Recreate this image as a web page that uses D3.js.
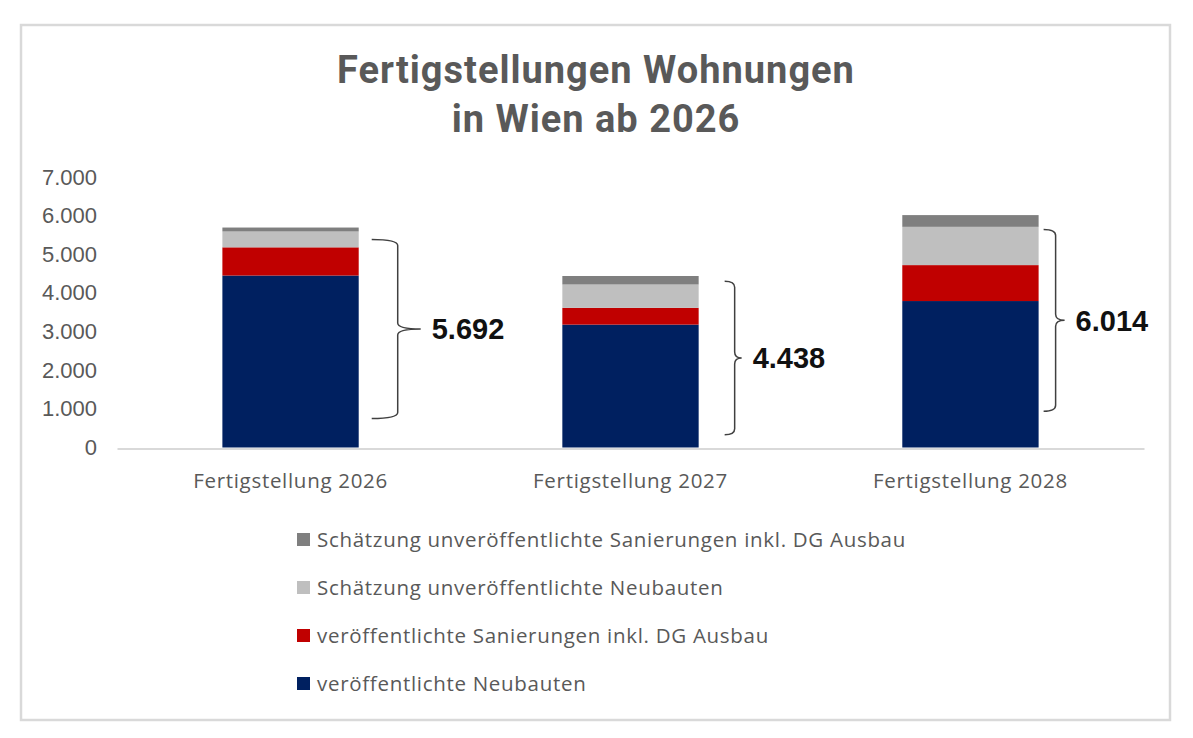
<!DOCTYPE html>
<html>
<head>
<meta charset="utf-8">
<script src="https://cdn.jsdelivr.net/npm/d3@7"></script>
<style>
  body { margin: 0; background: #ffffff; }
  svg { display: block; }
</style>
</head>
<body>
<div id="chart"></div>
<script>
// data
var categories = ["Fertigstellung 2026", "Fertigstellung 2027", "Fertigstellung 2028"];
var neubauten = [4450, 3180, 3790];
var sanierungen = [730, 434, 930];
var schaetzungNeubauten = [410, 604, 990];
var schaetzungSanierungen = [102, 220, 304];
var yTicks = [0, 1000, 2000, 3000, 4000, 5000, 6000, 7000];
// brace annotation: value range covered by each brace
var braceTop = [5380, 4300, 5640];
var braceBottom = [750, 330, 940];

var seriesKeys = ["neubauten", "sanierungen", "schaetzungNeubauten", "schaetzungSanierungen"];
var seriesNames = {
  neubauten: "veröffentlichte Neubauten",
  sanierungen: "veröffentlichte Sanierungen inkl. DG Ausbau",
  schaetzungNeubauten: "Schätzung unveröffentlichte Neubauten",
  schaetzungSanierungen: "Schätzung unveröffentlichte Sanierungen inkl. DG Ausbau"
};
var seriesColors = {
  neubauten: "#002060",
  sanierungen: "#C00000",
  schaetzungNeubauten: "#BFBFBF",
  schaetzungSanierungen: "#7F7F7F"
};

var rows = categories.map(function(c, i) {
  return {
    cat: c,
    neubauten: neubauten[i],
    sanierungen: sanierungen[i],
    schaetzungNeubauten: schaetzungNeubauten[i],
    schaetzungSanierungen: schaetzungSanierungen[i]
  };
});

var de = d3.formatLocale({decimal: ",", thousands: ".", grouping: [3], currency: ["", " €"]});
var fmt = de.format(",d");

var W = 1193, H = 738;
var svg = d3.select("#chart").append("svg")
  .attr("width", W)
  .attr("height", H);

svg.append("rect")
  .attr("width", W).attr("height", H)
  .attr("fill", "#ffffff");

// frame
svg.append("rect")
  .attr("x", 21).attr("y", 25)
  .attr("width", 1149).attr("height", 695)
  .attr("fill", "none")
  .attr("stroke", "#d9d9d9")
  .attr("stroke-width", 2.5);

// title
var title = svg.append("text")
  .attr("text-anchor", "middle")
  .attr("font-family", "Roboto, sans-serif")
  .attr("font-weight", "bold")
  .attr("font-size", 38)
  .attr("letter-spacing", 1)
  .attr("fill", "#595959");
title.append("tspan").attr("x", 596).attr("y", 83).text("Fertigstellungen Wohnungen");
title.append("tspan").attr("x", 596).attr("y", 132).text("in Wien ab 2026");

var x = d3.scaleBand()
  .domain(categories)
  .range([117, 1144])
  .paddingInner(0.599)
  .paddingOuter(0.31);

var y = d3.scaleLinear()
  .domain([0, 7000])
  .range([447.5, 177]);

// y axis labels
var yAxis = d3.axisLeft(y)
  .tickValues(yTicks)
  .tickFormat(fmt)
  .tickSize(0)
  .tickPadding(0);
var gy = svg.append("g")
  .attr("transform", "translate(97,0)")
  .call(yAxis);
gy.select(".domain").remove();
gy.selectAll("text")
  .attr("font-family", "'Liberation Sans', Arial, sans-serif")
  .attr("font-size", 22)
  .attr("fill", "#595959");

// bars
var stack = d3.stack().keys(seriesKeys);
var layers = stack(rows);

svg.append("g").selectAll("g")
  .data(layers)
  .join("g")
  .attr("fill", function(d) { return seriesColors[d.key]; })
  .selectAll("rect")
  .data(function(d) { return d; })
  .join("rect")
  .attr("x", function(d) { return x(d.data.cat); })
  .attr("y", function(d) { return y(d[1]); })
  .attr("width", x.bandwidth())
  .attr("height", function(d) { return y(d[0]) - y(d[1]); });

// x axis
var xAxis = d3.axisBottom(x).tickSize(0).tickPadding(0);
var gx = svg.append("g")
  .attr("transform", "translate(0," + y(0) + ")")
  .call(xAxis);
gx.select(".domain")
  .attr("stroke", "#d9d9d9")
  .attr("stroke-width", 2)
  .attr("transform", "translate(0,1)");
gx.selectAll("text")
  .attr("dy", null)
  .attr("y", 40)
  .attr("font-family", "'Open Sans', sans-serif")
  .attr("font-size", 20.5)
  .attr("letter-spacing", 0.7)
  .attr("fill", "#595959");

// braces with totals
var braceGap = [13, 26, 5];
var braceDepth = [26, 10, 12];
var braceTip = [23, 7, 9];

function bracePath(x0, xv, xt, yTop, yBot) {
  var yMid = (yTop + yBot) / 2;
  var r = 6;
  return "M" + x0 + "," + yTop +
    " Q" + xv + "," + yTop + " " + xv + "," + (yTop + r) +
    " L" + xv + "," + (yMid - r) +
    " Q" + xv + "," + yMid + " " + xt + "," + yMid +
    " Q" + xv + "," + yMid + " " + xv + "," + (yMid + r) +
    " L" + xv + "," + (yBot - r) +
    " Q" + xv + "," + yBot + " " + x0 + "," + yBot;
}

rows.forEach(function(r, i) {
  var total = seriesKeys.reduce(function(s, k) { return s + r[k]; }, 0);
  var right = x(r.cat) + x.bandwidth();
  var x0 = right + braceGap[i];
  var xv = x0 + braceDepth[i];
  var xt = xv + braceTip[i];
  var yT = y(braceTop[i]), yB = y(braceBottom[i]);
  svg.append("path")
    .attr("d", bracePath(x0, xv, xt, yT, yB))
    .attr("fill", "none")
    .attr("stroke", "#404040")
    .attr("stroke-width", 1.5);
  svg.append("text")
    .attr("x", xt + 11)
    .attr("y", (yT + yB) / 2)
    .attr("dy", "0.36em")
    .attr("font-family", "'Liberation Sans', Arial, sans-serif")
    .attr("font-weight", "bold")
    .attr("font-size", 29)
    .attr("fill", "#111111")
    .text(fmt(total));
});

// legend, top to bottom in reverse stack order
var legendKeys = seriesKeys.slice().reverse();
var legend = svg.append("g").selectAll("g")
  .data(legendKeys)
  .join("g")
  .attr("transform", function(d, i) { return "translate(297," + (540 + i * 48) + ")"; });
legend.append("rect")
  .attr("x", 0).attr("y", -7)
  .attr("width", 13).attr("height", 13)
  .attr("fill", function(d) { return seriesColors[d]; });
legend.append("text")
  .attr("x", 20)
  .attr("dy", "0.35em")
  .attr("font-family", "'Open Sans', sans-serif")
  .attr("font-size", 20.5)
  .attr("letter-spacing", 0.7)
  .attr("fill", "#595959")
  .text(function(d) { return seriesNames[d]; });
</script>
</body>
</html>
